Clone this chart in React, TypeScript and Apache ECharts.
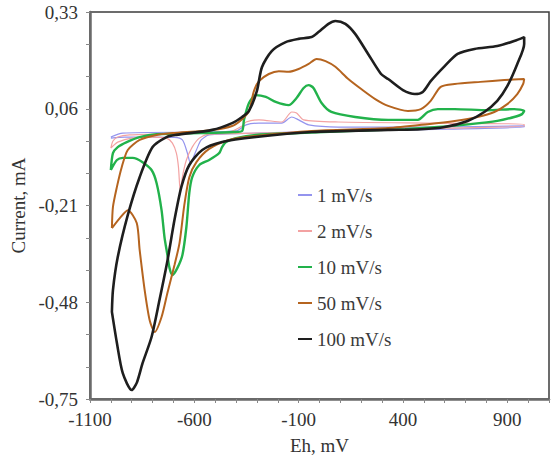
import React, { useEffect, useRef } from "react";
import * as echarts from "echarts";

// Cyclic voltammograms, potential Eh (mV) vs current (mA), at five scan rates.
// Each loop: anodic sweep from the negative vertex, then cathodic sweep back.

const scanRates = ["1 mV/s", "2 mV/s", "10 mV/s", "50 mV/s", "100 mV/s"];
const colors = ["#9494ee", "#f3a2a2", "#22b24b", "#b5641f", "#1e1e1e"];
const widths = [1.2, 1.2, 2.4, 2, 2.6];

const xLabelTicks = [-1100, -600, -100, 400, 900];
const yLabelTicks = [-0.75, -0.48, -0.21, 0.06, 0.33];
const xMinorTicks = [
  -1100, -1000, -900, -800, -700, -600, -500, -400, -300, -200, -100, 0, 100,
  200, 300, 400, 500, 600, 700, 800, 900, 1000, 1100,
];
const yMinorTicks = [
  -0.75, -0.66, -0.57, -0.48, -0.39, -0.3, -0.21, -0.12, -0.03, 0.06, 0.15,
  0.24, 0.33,
];

const cv1: number[][] = [
  [-1000, -0.019], [-943, -0.008], [-576, -0.005], [-400, -0.002], [-352, 0.015],
  [-290, 0.02], [-181, 0.02], [-133, 0.037], [-100, 0.029], [-52, 0.015],
  [90, 0.009], [567, 0.009], [981, 0.012],
  [981, 0.009], [614, 0.003], [138, -0.002], [-305, -0.008], [-529, -0.013],
  [-567, -0.027], [-590, -0.055], [-619, -0.091], [-633, -0.064], [-657, -0.027],
  [-695, -0.02], [-814, -0.019], [-933, -0.019], [-1000, -0.022],
];

const cv2: number[][] = [
  [-1000, -0.05], [-990, -0.03], [-967, -0.019], [-910, -0.013], [-767, -0.011],
  [-576, -0.008], [-433, -0.005], [-371, 0.012], [-352, 0.023], [-290, 0.029],
  [-181, 0.023], [-133, 0.051], [-110, 0.048], [-76, 0.029], [90, 0.023],
  [567, 0.02], [981, 0.017],
  [981, 0.012], [614, 0.006], [138, -0.002], [-290, -0.008], [-529, -0.011],
  [-576, -0.022], [-610, -0.047], [-638, -0.083], [-657, -0.13], [-667, -0.172],
  [-676, -0.103], [-686, -0.064], [-705, -0.036], [-733, -0.022], [-800, -0.019],
  [-900, -0.022], [-967, -0.033], [-990, -0.044], [-1000, -0.05],
];

const cv10: number[][] = [
  [-1000, -0.111], [-990, -0.064], [-967, -0.047], [-924, -0.033], [-862, -0.019],
  [-781, -0.011], [-576, -0.008], [-410, -0.005], [-371, -0.002], [-362, 0.029],
  [-338, 0.076], [-305, 0.098], [-257, 0.093], [-210, 0.079], [-148, 0.07],
  [-110, 0.09], [-76, 0.118], [-52, 0.126], [-29, 0.118], [10, 0.076],
  [57, 0.051], [171, 0.037], [329, 0.029], [471, 0.029], [519, 0.051],
  [567, 0.059], [648, 0.059], [805, 0.056], [933, 0.059], [981, 0.054],
  [971, 0.045], [933, 0.037], [852, 0.026], [724, 0.017], [567, 0.009],
  [410, 0.003], [138, -0.002], [-100, -0.008], [-305, -0.013], [-400, -0.022],
  [-448, -0.033], [-467, -0.047], [-481, -0.064], [-529, -0.083], [-576, -0.097],
  [-610, -0.131], [-624, -0.175], [-638, -0.27], [-657, -0.348], [-681, -0.384],
  [-705, -0.404], [-719, -0.384], [-729, -0.348], [-743, -0.298], [-757, -0.223],
  [-781, -0.147], [-805, -0.111], [-848, -0.089], [-895, -0.077], [-943, -0.077],
  [-971, -0.083], [-1000, -0.111],
];

const cv50: number[][] = [
  [-995, -0.273], [-990, -0.214], [-971, -0.158], [-948, -0.103], [-919, -0.055],
  [-862, -0.027], [-781, -0.013], [-705, -0.008], [-514, 0.001], [-419, 0.012],
  [-371, 0.031], [-338, 0.054], [-314, 0.11], [-290, 0.137], [-243, 0.157],
  [-195, 0.165], [-148, 0.163], [-100, 0.171], [-52, 0.185], [-14, 0.199],
  [29, 0.193], [76, 0.177], [138, 0.143], [200, 0.115], [267, 0.087],
  [329, 0.068], [424, 0.054], [486, 0.059], [533, 0.082], [581, 0.121],
  [648, 0.129], [771, 0.135], [886, 0.14], [981, 0.143],
  [976, 0.129], [948, 0.101], [900, 0.073], [838, 0.051], [757, 0.037],
  [648, 0.026], [519, 0.017], [329, 0.006], [-38, -0.002], [-305, -0.016],
  [-433, -0.027], [-529, -0.052], [-590, -0.089], [-624, -0.131], [-648, -0.209],
  [-671, -0.315], [-695, -0.376], [-729, -0.454], [-757, -0.521], [-790, -0.563],
  [-814, -0.53], [-838, -0.446], [-862, -0.334], [-876, -0.259], [-919, -0.223],
  [-957, -0.245], [-995, -0.273],
];

const cv100: number[][] = [
  [-995, -0.507], [-990, -0.446], [-967, -0.354], [-919, -0.237], [-862, -0.131],
  [-800, -0.047], [-733, -0.019], [-686, -0.013], [-514, 0.001], [-419, 0.02],
  [-371, 0.037], [-338, 0.054], [-300, 0.11], [-276, 0.176], [-229, 0.221],
  [-162, 0.246], [-100, 0.255], [-38, 0.26], [-5, 0.274], [43, 0.297],
  [76, 0.305], [124, 0.297], [171, 0.269], [233, 0.213], [295, 0.157],
  [329, 0.143], [400, 0.112], [457, 0.101], [495, 0.107], [533, 0.137],
  [600, 0.179], [662, 0.213], [743, 0.227], [852, 0.235], [933, 0.249],
  [981, 0.26],
  [981, 0.241], [948, 0.185], [900, 0.123], [852, 0.082], [790, 0.051],
  [710, 0.026], [600, 0.009], [486, 0.003], [329, 0.001], [-38, -0.005],
  [-305, -0.019], [-467, -0.033], [-562, -0.055], [-624, -0.097], [-662, -0.158],
  [-695, -0.25], [-729, -0.365], [-767, -0.474], [-805, -0.577], [-848, -0.65],
  [-876, -0.705], [-900, -0.725], [-943, -0.678], [-971, -0.594], [-995, -0.507],
];

const curves = [cv1, cv2, cv10, cv50, cv100];

const font = "Liberation Serif";

export default function App() {
  const ref = useRef<HTMLDivElement>(null);

  useEffect(() => {
    document.body.style.margin = "0";
    if (!ref.current) return;
    const chart = echarts.init(ref.current, undefined, { renderer: "svg" });

    const axisCommon = {
      axisLine: { show: true, onZero: false, lineStyle: { color: "#6a6a6a", width: 2.5 } },
      splitLine: { show: false },
      nameTextStyle: { fontFamily: font, fontSize: 19, color: "#333333" },
    };

    chart.setOption({
      animation: false,
      backgroundColor: "#ffffff",
      grid: {
        left: 90,
        right: 2,
        top: 12,
        bottom: 58,
        outerBoundsMode: "none",
        containLabel: false,
        show: true,
        borderColor: "#3c3c3c",
        borderWidth: 1.5,
      },
      xAxis: {
        type: "value",
        min: -1100,
        max: 1100,
        name: "Eh, mV",
        nameLocation: "middle",
        nameGap: 37,
        ...axisCommon,
        axisTick: {
          show: true,
          length: 4,
          customValues: xMinorTicks,
          lineStyle: { color: "#888", width: 1 },
        },
        axisLabel: {
          customValues: xLabelTicks,
          margin: 11,
          fontFamily: font,
          fontSize: 19,
          color: "#333",
          formatter: (v: number) => String(v),
        },
      },
      yAxis: {
        type: "value",
        min: -0.75,
        max: 0.33,
        name: "Current, mA",
        nameLocation: "middle",
        nameGap: 62,
        ...axisCommon,
        axisTick: {
          show: true,
          length: 4,
          customValues: yMinorTicks,
          lineStyle: { color: "#888", width: 1 },
        },
        axisLabel: {
          customValues: yLabelTicks,
          margin: 12,
          fontFamily: font,
          fontSize: 19,
          color: "#333",
          formatter: (v: number) => v.toFixed(2).replace(".", ","),
        },
      },
      legend: {
        orient: "vertical",
        left: 293,
        top: 180,
        icon: "rect",
        itemWidth: 14,
        itemHeight: 2,
        itemGap: 16,
        textStyle: { fontFamily: font, fontSize: 19, lineHeight: 20, color: "#3a3a3a" },
        data: scanRates,
      },
      series: scanRates.map((name, i) => ({
        name,
        type: "line",
        data: curves[i],
        symbol: "none",
        smooth: 0.25,
        color: colors[i],
        lineStyle: { color: colors[i], width: widths[i] },
        z: 2 + i,
      })),
    });

    return () => chart.dispose();
  }, []);

  return <div ref={ref} style={{ width: 551, height: 457 }} />;
}
